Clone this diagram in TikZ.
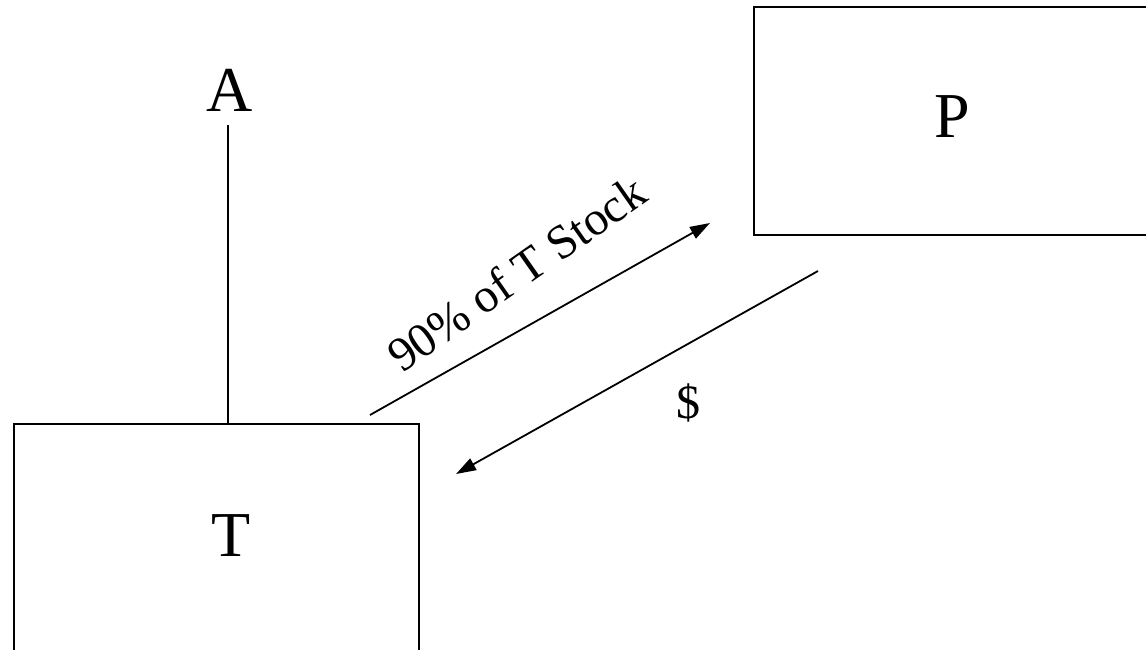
\documentclass[tikz,border=0pt]{standalone}
\usepackage{fontspec}
\setmainfont{Liberation Serif}
\usetikzlibrary{arrows.meta}
\begin{document}
\begin{tikzpicture}[x=1pt,y=-1pt,
  box/.style={draw,line width=2.2pt,rectangle,inner sep=0pt},
  big/.style={font=\fontsize{64}{64}\selectfont,inner sep=0pt,anchor=base},
  lbl/.style={font=\fontsize{48}{48}\selectfont,inner sep=0pt,anchor=base},
  flow/.style={line width=1.8pt,-{Triangle[length=20pt,width=13pt]}},
  stem/.style={line width=1.8pt}]
\useasboundingbox (0,0) rectangle (1146,650);
\clip (0,0) rectangle (1146,650);
\node[box,minimum width=405pt,minimum height=276pt] (Tbox) at (216.5,562) {};
\node[box,minimum width=406pt,minimum height=228pt] (Pbox) at (957,121) {};
\node[big] (Tl) at (231,556) {T};
\node[big] (Pl) at (952,138) {P};
\node[big] (A) at (230,112) {A};
\draw[stem] ([xshift=-2pt,yshift=-13pt]A.south) -- ([xshift=-2pt]A.south |- Tbox.north);
\coordinate (s1) at (370,415);
\coordinate (e1) at (710,223);
\coordinate (s2) at (818,271);
\coordinate (e2) at (456,474);
\draw[flow] (s1) -- (e1);
\draw[flow] (s2) -- (e2);
\node[lbl,rotate=35] (stock) at (526,287) {90\% of T Stock};
\node[lbl] (dollar) at (688,418) {\$};
\end{tikzpicture}
\end{document}
